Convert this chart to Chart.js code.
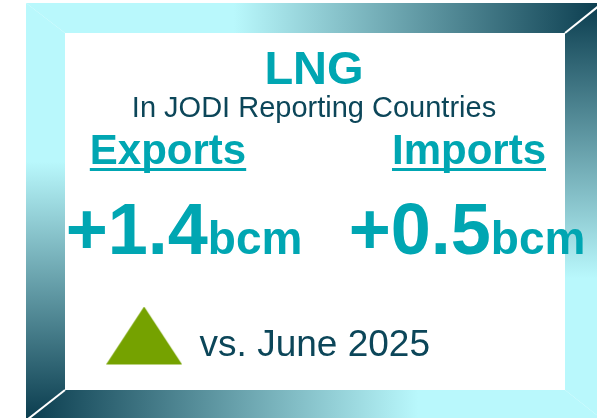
<!DOCTYPE html>
<html>
<head>
<meta charset="utf-8">
<title>LNG in JODI Reporting Countries</title>
<script src="https://cdn.jsdelivr.net/npm/chart.js@4.4.1/dist/chart.umd.min.js"></script>
<style>
  html, body { margin: 0; padding: 0; background: #fff; overflow: hidden; }
  #wrap { position: relative; width: 597px; height: 418px; }
  #frame, #lng-chart { position: absolute; left: 0; top: 0; }
</style>
</head>
<body>
<div id="wrap">
  <!-- bevelled picture frame behind the chart -->
  <svg id="frame" width="597" height="418">
    <defs>
      <linearGradient id="gTop" gradientUnits="userSpaceOnUse" x1="26" y1="0" x2="603" y2="0">
        <stop offset="0.36" stop-color="#b9f8fc"/>
        <stop offset="1" stop-color="#0a3c4e"/>
      </linearGradient>
      <linearGradient id="gRight" gradientUnits="userSpaceOnUse" x1="0" y1="3" x2="0" y2="420">
        <stop offset="0" stop-color="#0a3c4e"/>
        <stop offset="0.66" stop-color="#b9f8fc"/>
      </linearGradient>
      <linearGradient id="gBottom" gradientUnits="userSpaceOnUse" x1="26" y1="0" x2="603" y2="0">
        <stop offset="0" stop-color="#0a3c4e"/>
        <stop offset="0.68" stop-color="#b9f8fc"/>
      </linearGradient>
      <linearGradient id="gLeft" gradientUnits="userSpaceOnUse" x1="0" y1="3" x2="0" y2="420">
        <stop offset="0.38" stop-color="#b9f8fc"/>
        <stop offset="1" stop-color="#0a3c4e"/>
      </linearGradient>
    </defs>
    <polygon points="26,3 603,3 565,33 65,33" fill="url(#gTop)"/>
    <polygon points="603,3 603,420 565,390 565,33" fill="url(#gRight)"/>
    <polygon points="26,420 65,390 565,390 603,420" fill="url(#gBottom)"/>
    <polygon points="26,3 65,33 65,390 26,420" fill="url(#gLeft)"/>
    <line x1="565" y1="33" x2="605" y2="1" stroke="#fff" stroke-width="2"/>
    <line x1="65" y1="390" x2="23" y2="423" stroke="#fff" stroke-width="2"/>
  </svg>
  <canvas id="lng-chart" width="597" height="418"></canvas>
</div>

<script>
// chart data
const categories = ['Exports', 'Imports'];
const changes = [1.4, 0.5];
const unit = 'bcm';
const titleText = 'LNG';
const subtitleText = 'In JODI Reporting Countries';
const comparisonText = 'vs. June 2025';

const TEAL = '#00a6b2';
const DARK = '#0c4659';
const GREEN = '#75a200';
const FONT = '"Liberation Sans", Arial, sans-serif';

// the figures are not centred exactly under their headings in the original
const valueShift = [16, -2];

// up-arrow marker used as the legend point style
function upTriangle(color) {
  const c = document.createElement('canvas');
  c.width = 76;
  c.height = 78;
  const g = c.getContext('2d');
  g.fillStyle = color;
  g.beginPath();
  g.moveTo(38, 0);
  g.lineTo(76, 58);
  g.lineTo(0, 58);
  g.closePath();
  g.fill();
  return c;
}

// writes the category heading and the change figure at each point's x
const calloutPlugin = {
  id: 'callouts',
  afterDatasetsDraw(chart) {
    const { ctx, chartArea } = chart;
    const meta = chart.getDatasetMeta(0);
    meta.data.forEach((pt, i) => {
      const x = pt.x;
      ctx.save();
      ctx.fillStyle = TEAL;
      ctx.textBaseline = 'alphabetic';

      // heading, underlined
      ctx.font = 'bold 42px ' + FONT;
      ctx.textAlign = 'center';
      const hy = chartArea.top + 41;
      ctx.fillText(categories[i], x, hy);
      const hw = ctx.measureText(categories[i]).width;
      ctx.fillRect(x - hw / 2, hy + 4, hw, 3);

      // value + unit
      const v = changes[i];
      const big = (v >= 0 ? '+' : '') + v.toFixed(1);
      ctx.font = 'bold 72px ' + FONT;
      const bw = ctx.measureText(big).width;
      ctx.font = 'bold 46px ' + FONT;
      const uw = ctx.measureText(unit).width;
      const vy = chartArea.top + 131;
      const vx = x + valueShift[i] - (bw + uw) / 2;
      ctx.textAlign = 'left';
      ctx.font = 'bold 72px ' + FONT;
      ctx.fillText(big, vx, vy);
      ctx.font = 'bold 46px ' + FONT;
      ctx.fillText(unit, vx + bw, vy);
      ctx.restore();
    });
  }
};

const marker = upTriangle(GREEN);

const hiddenAxis = (position, width) => ({
  display: true,
  position,
  min: 0,
  max: 2,
  ticks: { display: false },
  grid: { display: false },
  border: { display: false },
  afterFit(scale) { scale.width = width; }
});

new Chart(document.getElementById('lng-chart'), {
  type: 'line',
  data: {
    labels: categories,
    datasets: [{
      label: 'Change',
      data: changes,
      showLine: false,
      pointRadius: 0,
      pointHoverRadius: 0
    }]
  },
  options: {
    responsive: false,
    animation: false,
    devicePixelRatio: 1,
    events: [],
    layout: { padding: { left: 100, right: 69, top: 0, bottom: 44 } },
    scales: {
      x: { display: false, offset: false },
      y: hiddenAxis('left', 68),
      y2: hiddenAxis('right', 59)
    },
    plugins: {
      title: {
        display: true,
        text: titleText,
        color: TEAL,
        font: { family: FONT, size: 47, weight: 'bold', lineHeight: 1 },
        padding: { top: 48, bottom: 0 }
      },
      subtitle: {
        display: true,
        text: subtitleText,
        color: DARK,
        font: { family: FONT, size: 29, lineHeight: 1 },
        padding: { top: -1, bottom: 0 }
      },
      legend: {
        display: true,
        position: 'bottom',
        align: 'end',
        labels: {
          usePointStyle: true,
          pointStyleWidth: 74,
          padding: 98,
          color: DARK,
          font: { family: FONT, size: 37 },
          generateLabels: () => [{
            text: comparisonText,
            pointStyle: marker,
            fillStyle: GREEN,
            strokeStyle: GREEN,
            fontColor: DARK,
            lineWidth: 0,
            hidden: false,
            datasetIndex: 0
          }]
        }
      },
      tooltip: { enabled: false }
    }
  },
  plugins: [calloutPlugin]
});
</script>
</body>
</html>
